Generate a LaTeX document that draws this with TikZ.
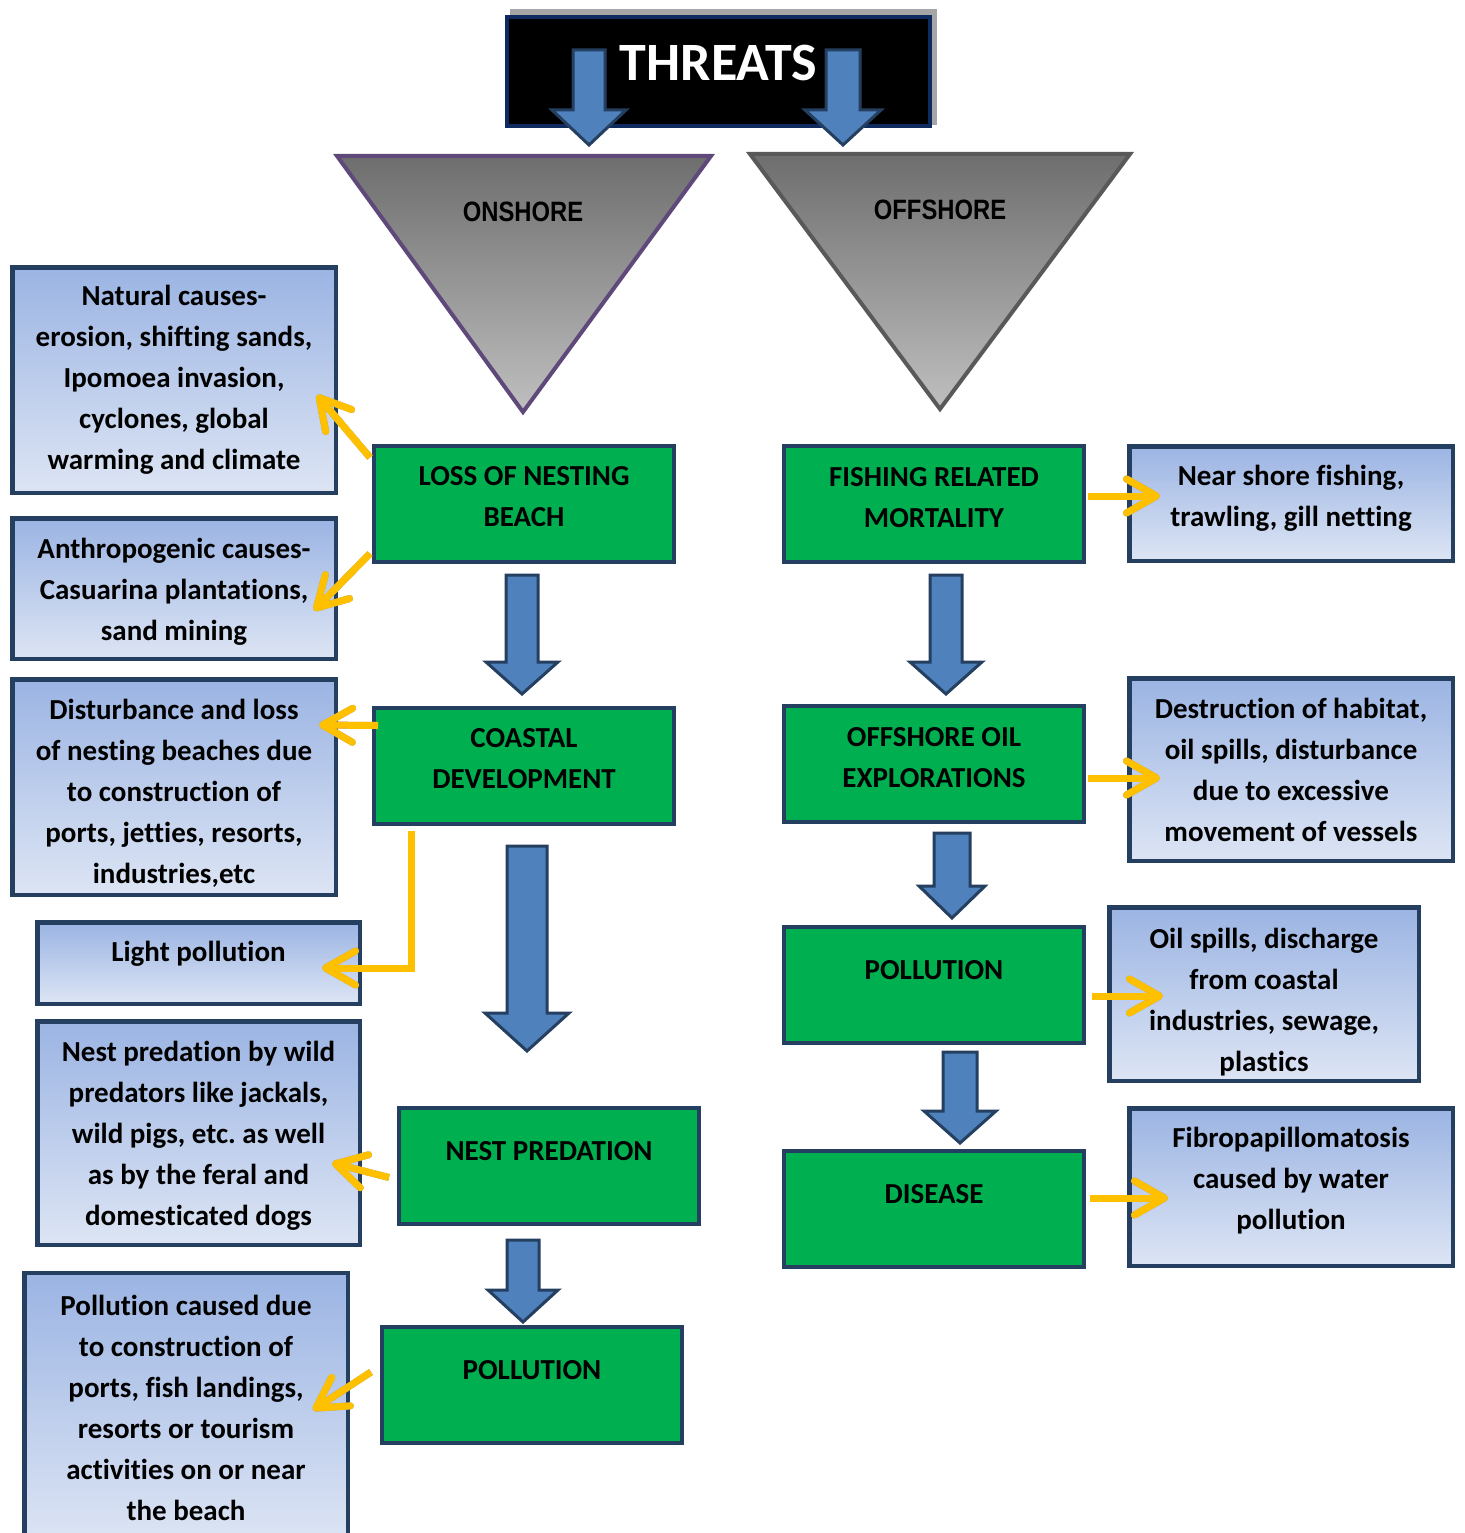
\documentclass[tikz,border=0pt]{standalone}
\usepackage{fontspec}
\setmainfont{Carlito}[Ligatures={NoCommon}]
\newfontfamily\narrowfont[FakeStretch=0.85]{Liberation Sans}
\usetikzlibrary{positioning,calc,arrows.meta}
\frenchspacing

\definecolor{boxgreen}{HTML}{00B050}
\definecolor{navy}{HTML}{243F60}
\definecolor{arrowblue}{HTML}{4F81BD}
\definecolor{notegold}{HTML}{FFC000}
\definecolor{topblue}{HTML}{9BB4E3}
\definecolor{botblue}{HTML}{DDE5F4}
\definecolor{edgepurple}{HTML}{5F497A}
\definecolor{threatnavy}{HTML}{0F2A5E}

\newcommand{\bodyfont}{\bfseries\fontsize{29}{41}\selectfont}
% pushes a first line down
\newcommand{\lowerby}[1]{\rule{0pt}{#1pt}}

% block arrow: centre x, top y, head y, tip y, half shaft, half head
\newcommand{\bluearrow}[6]{%
  \draw[bigarrow] (#1-#5,#2) -- (#1+#5,#2) -- (#1+#5,#3) -- (#1+#6,#3)
    -- (#1,#4) -- (#1-#6,#3) -- (#1-#5,#3) -- cycle;}

% gold arrow with its grey shadow
\newcommand{\goldarrow}[1]{%
  \draw[goldshadow] #1;
  \draw[goldline] #1;}

\tikzset{
  threat/.style={draw=navy, line width=4pt, fill=boxgreen, minimum width=300pt,
    minimum height=116pt, align=center, font=\bodyfont, inner sep=0pt},
  cause/.style={draw=navy, line width=4.5pt, top color=topblue, bottom color=botblue,
    align=center, font=\bodyfont, inner sep=0pt},
  bigarrow/.style={draw=navy, line width=3pt, fill=arrowblue, line join=miter},
  goldline/.style={notegold, line width=7pt, line join=miter,
    -{Straight Barb[length=30pt,width=34pt,round]}},
  goldshadow/.style={goldline, black!40, shift={(3,4)}},
}

\begin{document}
\begin{tikzpicture}[x=1pt,y=-1pt]
    \useasboundingbox (0,0) rectangle (1464,1533);

    % title
    \fill[black!35] (510,9) rectangle (937,125);
    \node (threats) [draw=threatnavy, line width=4pt, fill=black, minimum width=423pt,
      minimum height=109pt, text=white, font=\bfseries\fontsize{54}{60}\selectfont,
      text depth=17pt] at (718.5,71.5) {THREATS};
    \bluearrow{589}{50}{110}{145}{16}{37}
    \bluearrow{843}{50}{110}{145}{17}{38}

    % the two triangles
    \draw[edgepurple, line width=4pt, top color=black!57, bottom color=black!25]
      (337,156) -- (711,156) -- (523,412) -- cycle;
    \draw[black!65, line width=4pt, top color=black!57, bottom color=black!25]
      (750,154) -- (1130,154) -- (940,409) -- cycle;
    \node (onshore) at (523,212) {\narrowfont\bfseries\fontsize{28}{30}\selectfont ONSHORE};
    \node (offshore) at (940,210) {\narrowfont\bfseries\fontsize{28}{30}\selectfont OFFSHORE};

    % onshore column
    \node (loss) [threat, text depth=14pt] at (524,503.5) {LOSS OF NESTING\\BEACH};
    \node (coastal) [threat, text depth=14pt] at (524,765.5) {COASTAL\\DEVELOPMENT};
    \node (nestpred) [threat, text depth=30pt] at (549,1165.5) {NEST PREDATION};
    \node (pollL) [threat, text depth=30pt] at (532,1385) {POLLUTION};

    \bluearrow{522}{575}{662}{694}{16}{36}
    \bluearrow{527}{846}{1013}{1051}{20}{42}
    \bluearrow{523}{1240}{1290}{1322}{16}{35}

    % offshore column
    \node (fishing) [threat, text depth=14pt] at (934,504) {FISHING RELATED\\MORTALITY};
    \node (oil) [threat, text depth=14pt] at (934,764) {OFFSHORE OIL\\EXPLORATIONS};
    \node (pollR) [threat, text depth=30pt] at (934,984.5) {POLLUTION};
    \node (disease) [threat, text depth=30pt] at (934,1208.5) {DISEASE};

    \bluearrow{946}{575}{662}{694}{16}{36}
    \bluearrow{952}{833}{886}{918}{18}{33}
    \bluearrow{960}{1052}{1111}{1143}{17}{36}

    % causes, left
    \node (natural) [cause, minimum width=323.5pt, minimum height=225.5pt] at (174,380)
      {Natural causes-\\erosion, shifting sands,\\Ipomoea invasion,\\cyclones, global\\warming and climate};
    \node (anthro) [cause, minimum width=323.5pt, minimum height=140.5pt] at (174,588.5)
      {\lowerby{27}Anthropogenic causes-\\Casuarina plantations,\\sand mining};
    \node (disturb) [cause, minimum width=323.5pt, minimum height=215.5pt] at (174,787)
      {\lowerby{33}Disturbance and loss\\of nesting beaches due\\to construction of\\ports, jetties, resorts,\\industries,etc};
    \node (light) [cause, minimum width=322.5pt, minimum height=81.5pt, text depth=23pt] at (198.5,963)
      {Light pollution};
    \node (predators) [cause, minimum width=322.5pt, minimum height=223.5pt] at (198.5,1133)
      {\lowerby{26}Nest predation by wild\\predators like jackals,\\wild pigs, etc. as well\\as by the feral and\\domesticated dogs};
    \node (pollcause) [cause, minimum width=323.5pt, minimum height=270pt] at (186,1408)
      {Pollution caused due\\to construction of\\ports, fish landings,\\resorts or tourism\\activities on or near\\the beach};

    % causes, right
    \node (nearshore) [cause, minimum width=323.5pt, minimum height=114.5pt, text depth=15pt] at (1291,503.5)
      {Near shore fishing,\\trawling, gill netting};
    \node (habitat) [cause, minimum width=323.5pt, minimum height=182.5pt] at (1291,769.5)
      {Destruction of habitat,\\oil spills, disturbance\\due to excessive\\movement of vessels};
    \node (spills) [cause, minimum width=309.5pt, minimum height=173.5pt] at (1264,994)
      {\lowerby{37}Oil spills, discharge\\from coastal\\industries, sewage,\\plastics};
    \node (fibro) [cause, minimum width=323.5pt, minimum height=157.5pt, text depth=17pt] at (1291,1187)
      {Fibropapillomatosis\\caused by water\\pollution};

    % gold links
    \goldarrow{($(loss.west)+(-2,-46)$) -- ($(natural.east)+(-21,15)$)}
    \goldarrow{($(loss.west)+(-2,50)$) -- ($(anthro.east)+(-24,22)$)}
    \goldarrow{($(coastal.west)+(6,-40)$) -- ($(disturb.east)+(-19,-62)$)}
    \goldarrow{($(coastal.south west)+(39,5)$) |- ($(light.east)+(-40,5)$)}
    \goldarrow{($(nestpred.west)+(-8,12)$) -- ($(predators.east)+(-30,30)$)}
    \goldarrow{($(pollL.west)+(-9,-13)$) -- ($(pollcause.east)+(-37,2)$)}
    \goldarrow{($(fishing.east)+(2,-8)$) -- ($(nearshore.west)+(33,-7.5)$)}
    \goldarrow{($(oil.east)+(2,14)$) -- ($(habitat.west)+(33,8.5)$)}
    \goldarrow{($(pollR.east)+(6,11.5)$) -- ($(spills.west)+(56,2)$)}
    \goldarrow{($(disease.east)+(4,-10.5)$) -- ($(fibro.west)+(41,11)$)}
\end{tikzpicture}
\end{document}
